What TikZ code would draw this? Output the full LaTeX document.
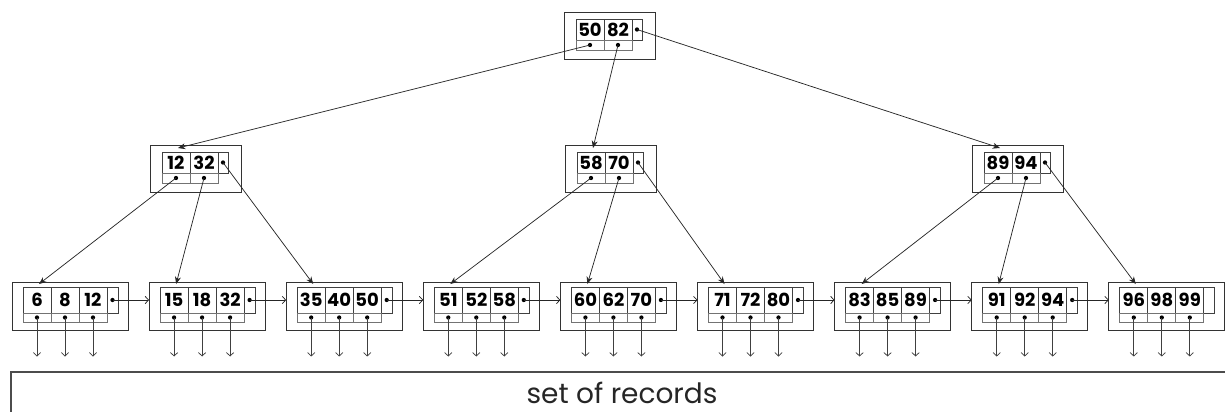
\documentclass[tikz,border=0pt]{standalone}
\usepackage{fontspec}
\setmainfont{Poppins}
\usetikzlibrary{arrows.meta,calc}

\tikzset{
  outerbox/.style={draw=black!80, line width=0.75pt, inner sep=0pt, outer sep=0pt, anchor=north west},
  keycell/.style={draw=black!75, line width=0.6pt, inner sep=0pt, outer sep=0pt, anchor=north west,
    font=\fontsize{13.5}{13.5}\selectfont\bfseries},
  ptrcell/.style={draw=black!75, line width=0.6pt, inner sep=0pt, outer sep=0pt, anchor=north west},
  botcell/.style={draw=black!55, line width=0.6pt, inner sep=0pt, outer sep=0pt, anchor=north west},
  treeedge/.style={draw=black!85, line width=0.55pt, -{Stealth[length=5.5pt,width=4.5pt]}},
  chainedge/.style={draw=black!85, line width=0.55pt, -{Straight Barb[length=2.6pt,width=5.5pt]}},
  downedge/.style={draw=black!75, line width=0.55pt, -{Straight Barb[length=2.6pt,width=5.5pt]}},
  recline/.style={draw=black!70, line width=0.8pt},
  dot/.style={fill=black}
}

% inner (index) node: name, left, top, key 1, key 2
\newcommand\indexnode[5]{%
  \node[outerbox, minimum width=68.25pt, minimum height=35.25pt] (#1) at (#2,#3) {};
  \node[keycell, minimum width=21pt, minimum height=15.75pt] (#1-k1) at ($(#1.north west)+(12,7)$) {#4};
  \node[keycell, minimum width=21pt, minimum height=15.75pt] (#1-k2) at (#1-k1.north east) {#5};
  \node[ptrcell, minimum width=7.5pt, minimum height=15.75pt] (#1-p) at (#1-k2.north east) {};
  \node[botcell, minimum width=21pt, minimum height=7.5pt] (#1-b1) at (#1-k1.south west) {};
  \node[botcell, minimum width=21pt, minimum height=7.5pt] (#1-b2) at (#1-k2.south west) {};
  \coordinate (#1-in) at ($(#1-k1.north west)+(16,-4)$);
  \fill[dot] (#1-b1.center) circle (1.6pt);
  \fill[dot] (#1-b2.center) circle (1.6pt);
  \fill[dot] (#1-p.center) circle (1.6pt);
}

% leaf node: name, left, key 1, key 2, key 3
\newcommand\leafnode[5]{%
  \node[outerbox, minimum width=87pt, minimum height=36pt] (#1) at (#2,282) {};
  \node[keycell, minimum width=21pt, minimum height=19.5pt] (#1-k1) at ($(#1.north west)+(11,5)$) {#3};
  \node[keycell, minimum width=21pt, minimum height=19.5pt] (#1-k2) at (#1-k1.north east) {#4};
  \node[keycell, minimum width=21pt, minimum height=19.5pt] (#1-k3) at (#1-k2.north east) {#5};
  \node[ptrcell, minimum width=8.25pt, minimum height=19.5pt] (#1-p) at (#1-k3.north east) {};
  \foreach \j in {1,2,3}{
    \node[botcell, minimum width=21pt, minimum height=6.75pt] (#1-b\j) at (#1-k\j.south west) {};
    \fill[dot] (#1-b\j.center) circle (1.6pt);
    \coordinate (#1-r\j) at ($(#1-b\j.center)+(0,39)$);
    \draw[downedge] (#1-b\j.center) -- (#1-r\j);
  }
  \coordinate (#1-in) at ($(#1-k1.north west)+(16,-3)$);
}

\begin{document}
\begin{tikzpicture}[x=0.75pt, y=-0.75pt]
  \useasboundingbox (0,0) rectangle (1225,412);

  % root and second level
  \indexnode{root}{564}{12}{50}{82}
  \indexnode{na}{150}{145}{12}{32}
  \indexnode{nb}{565}{145}{58}{70}
  \indexnode{nc}{972}{145}{89}{94}

  % leaves
  \leafnode{l1}{12}{6}{8}{12}
  \leafnode{l2}{149.1}{15}{18}{32}
  \leafnode{l3}{286.2}{35}{40}{50}
  \leafnode{l4}{423.3}{51}{52}{58}
  \leafnode{l5}{560.4}{60}{62}{70}
  \leafnode{l6}{697.5}{71}{72}{80}
  \leafnode{l7}{834.6}{83}{85}{89}
  \leafnode{l8}{971.7}{91}{92}{94}
  \leafnode{l9}{1108.8}{96}{98}{99}

  % tree pointers
  \draw[treeedge] (root-b1.center) -- (na-in);
  \draw[treeedge] (root-b2.center) -- (nb-in);
  \draw[treeedge] (root-p.center) -- (nc-in);

  \draw[treeedge] (na-b1.center) -- (l1-in);
  \draw[treeedge] (na-b2.center) -- (l2-in);
  \draw[treeedge] (na-p.center) -- (l3-in);
  \draw[treeedge] (nb-b1.center) -- (l4-in);
  \draw[treeedge] (nb-b2.center) -- (l5-in);
  \draw[treeedge] (nb-p.center) -- (l6-in);
  \draw[treeedge] (nc-b1.center) -- (l7-in);
  \draw[treeedge] (nc-b2.center) -- (l8-in);
  \draw[treeedge] (nc-p.center) -- (l9-in);

  % sibling chain along the leaves
  \foreach \a/\b in {l1/l2,l2/l3,l3/l4,l4/l5,l5/l6,l6/l7,l7/l8,l8/l9}{
    \fill[dot] (\a-p.center) circle (1.6pt);
    \draw[chainedge] (\a-p.center) -- (\b.west |- \a-p.center);
  }

  % record area
  \draw[recline] (1225,372) -- (11,372) -- (11,412);
  \node[font=\fontsize{21}{21}\selectfont, text=black!85] (records) at (622,393) {set of records};
\end{tikzpicture}
\end{document}
